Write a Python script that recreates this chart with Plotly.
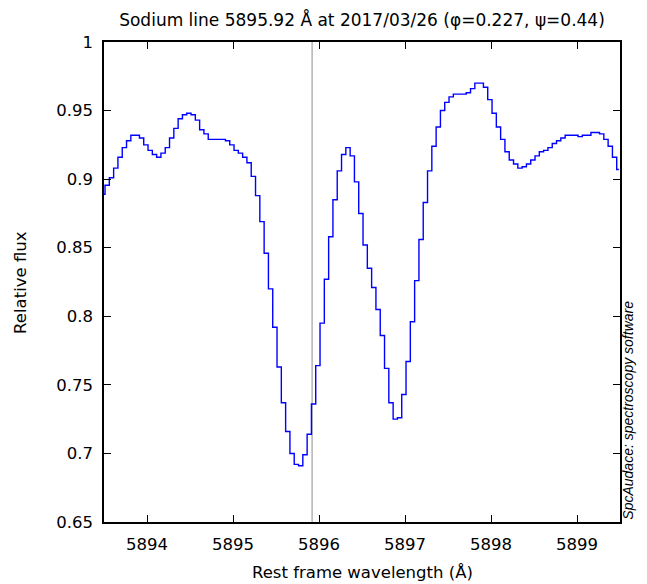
import plotly.graph_objects as go

# Rest-frame wavelengths (Angstrom), one per spectrum pixel
wavelength = [
    5893.487, 5893.537, 5893.587, 5893.637, 5893.687, 5893.737, 5893.787, 5893.837, 5893.887, 5893.937,
    5893.987, 5894.037, 5894.087, 5894.137, 5894.187, 5894.237, 5894.287, 5894.337, 5894.387, 5894.437,
    5894.487, 5894.537, 5894.587, 5894.637, 5894.687, 5894.737, 5894.787, 5894.837, 5894.887, 5894.937,
    5894.987, 5895.037, 5895.087, 5895.137, 5895.187, 5895.237, 5895.287, 5895.337, 5895.387, 5895.437,
    5895.487, 5895.537, 5895.587, 5895.637, 5895.687, 5895.737, 5895.787, 5895.837, 5895.887, 5895.937,
    5895.987, 5896.037, 5896.087, 5896.137, 5896.187, 5896.237, 5896.287, 5896.337, 5896.387, 5896.437,
    5896.487, 5896.537, 5896.587, 5896.637, 5896.687, 5896.737, 5896.787, 5896.837, 5896.887, 5896.937,
    5896.987, 5897.037, 5897.087, 5897.137, 5897.187, 5897.237, 5897.287, 5897.337, 5897.387, 5897.437,
    5897.487, 5897.537, 5897.587, 5897.637, 5897.687, 5897.737, 5897.787, 5897.837, 5897.887, 5897.937,
    5897.987, 5898.037, 5898.087, 5898.137, 5898.187, 5898.237, 5898.287, 5898.337, 5898.387, 5898.437,
    5898.487, 5898.537, 5898.587, 5898.637, 5898.687, 5898.737, 5898.787, 5898.837, 5898.887, 5898.937,
    5898.987, 5899.037, 5899.087, 5899.137, 5899.187, 5899.237, 5899.287, 5899.337, 5899.387, 5899.437,
    5899.487,
]

# Relative flux
flux = [
    0.889, 0.8955, 0.901, 0.908, 0.916, 0.923, 0.928, 0.932, 0.932, 0.930,
    0.925, 0.921, 0.918, 0.916, 0.919, 0.923, 0.930, 0.937, 0.944, 0.947,
    0.948, 0.947, 0.943, 0.936, 0.933, 0.929, 0.929, 0.929, 0.929, 0.928,
    0.925, 0.921, 0.919, 0.916, 0.912, 0.902, 0.888, 0.869, 0.846, 0.820,
    0.792, 0.763, 0.737, 0.716, 0.700, 0.692, 0.691, 0.699, 0.714, 0.736,
    0.764, 0.795, 0.827, 0.858, 0.885, 0.906, 0.918, 0.923, 0.917, 0.898,
    0.875, 0.852, 0.835, 0.821, 0.805, 0.786, 0.762, 0.737, 0.725, 0.726,
    0.743, 0.767, 0.796, 0.826, 0.856, 0.883, 0.906, 0.924, 0.938, 0.950,
    0.956, 0.960, 0.962, 0.962, 0.962, 0.963, 0.966, 0.970, 0.970, 0.967,
    0.958, 0.948, 0.938, 0.929, 0.920, 0.914, 0.911, 0.908, 0.909, 0.911,
    0.914, 0.917, 0.920, 0.921, 0.923, 0.926, 0.928, 0.930, 0.932, 0.932,
    0.932, 0.931, 0.932, 0.932, 0.934, 0.934, 0.933, 0.929, 0.924, 0.916,
    0.907,
]

sodium_line = 5895.92
x_ticks = [5894, 5895, 5896, 5897, 5898, 5899]
y_ticks = [0.65, 0.7, 0.75, 0.8, 0.85, 0.9, 0.95, 1]

title_text = "Sodium line 5895.92 Å at 2017/03/26 (φ=0.227, ψ=0.44)"
x_title = "Rest frame wavelength (Å)"
y_title = "Relative flux"
credit = "SpcAudace: spectroscopy software"

FONT = "DejaVu Sans"
FS = 16.5

fig = go.Figure()
fig.add_trace(go.Scatter(
    x=wavelength, y=flux, mode="lines",
    line=dict(color="#0000ff", width=1.4, shape="hvh"),
    hoverinfo="x+y", showlegend=False,
))

fig.add_shape(type="line", xref="x", yref="paper",
              x0=sodium_line, x1=sodium_line, y0=0, y1=1,
              line=dict(color="#b4b4b4", width=1.5), layer="below")

axis_common = dict(
    showgrid=False, zeroline=False, showline=True, mirror="ticks",
    linecolor="black", linewidth=1.5, ticks="inside", ticklen=7,
    tickwidth=1, tickcolor="black",
    tickfont=dict(family=FONT, size=FS, color="black"),
)

fig.update_xaxes(range=[5893.5, 5899.5], tickvals=x_ticks,
                 ticktext=[str(t) for t in x_ticks], ticklabelstandoff=6,
                 **axis_common)
fig.update_yaxes(range=[0.65, 1.0], tickvals=y_ticks,
                 ticktext=[f"{t:g}" for t in y_ticks], ticklabelstandoff=6,
                 **axis_common)

fig.update_layout(
    width=647, height=584,
    margin=dict(l=104, r=27, t=42, b=62, autoexpand=False),
    paper_bgcolor="white", plot_bgcolor="white",
    font=dict(family=FONT, size=FS, color="black"),
    title=dict(text=title_text, x=0.5, xref="paper", y=1 - 20 / 584,
               yref="container", xanchor="center", yanchor="middle",
               font=dict(family=FONT, size=17, color="black")),
    annotations=[
        dict(text=x_title, xref="paper", yref="paper", x=0.5, y=-0.105,
             xanchor="center", yanchor="middle", showarrow=False,
             font=dict(family=FONT, size=FS, color="black")),
        dict(text=y_title, xref="paper", yref="paper", x=-0.163, y=0.5,
             xanchor="center", yanchor="middle", textangle=-90, showarrow=False,
             font=dict(family=FONT, size=FS, color="black")),
        dict(text="<i>" + credit + "</i>", xref="paper", yref="paper",
             x=1.0155, y=0.234, xanchor="center", yanchor="middle",
             textangle=-90, showarrow=False,
             font=dict(family="Liberation Sans", size=14, color="black")),
    ],
)

fig.write_html("out.html", config={"displayModeBar": False},
               post_script="document.body.style.margin='0';document.body.style.padding='0';")
